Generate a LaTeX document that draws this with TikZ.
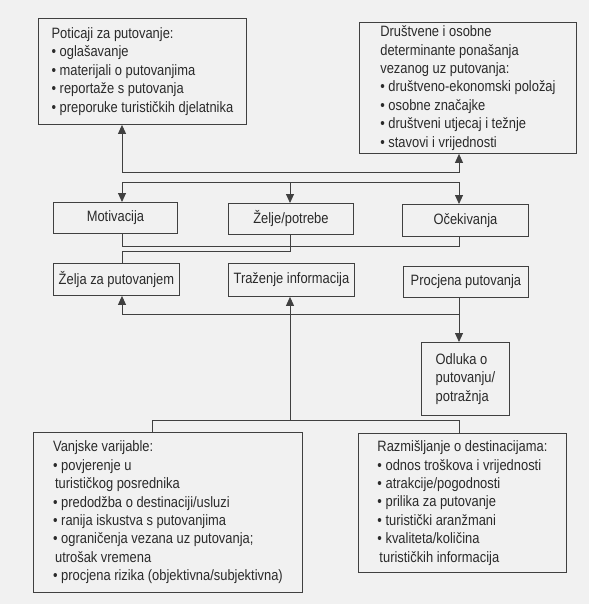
\documentclass[tikz,border=0pt]{standalone}
\usepackage{fontspec}
\setmainfont{Liberation Sans}[FakeStretch=0.86]
\usetikzlibrary{arrows.meta}
\definecolor{paper}{HTML}{F1F1F1}
\definecolor{ink}{HTML}{404040}
\definecolor{txt}{HTML}{2A2A2A}
\tikzset{
  box/.style={draw=ink, line width=0.9pt, fill=paper, text=txt, align=left,
    inner sep=0pt, anchor=north west, font=\fontsize{15}{18.4}\selectfont},
  link/.style={draw=ink, line width=0.9pt},
  tip/.style={link, -{Triangle[length=9pt,width=8pt]}},
  tips/.style={link, {Triangle[length=9pt,width=8pt]}-{Triangle[length=9pt,width=8pt]}},
}
\begin{document}
\begin{tikzpicture}[x=1pt,y=-1pt]
\fill[paper] (0,0) rectangle (589,604);
\coordinate (k0) at (152,0);
\coordinate (k1) at (122,0);
\coordinate (k2) at (290,0);
\coordinate (k3) at (459,0);
\coordinate (r1) at (0,172);
\coordinate (r2) at (0,182);
\coordinate (r3) at (0,246);
\coordinate (r4) at (0,251);
\coordinate (r5) at (0,314);
\coordinate (r6) at (0,420);

\node[box, minimum width=208, minimum height=106] (poticaji) at (38,18)
  {Poticaji za putovanje:\\• oglašavanje\\• materijali o putovanjima\\• reportaže s putovanja\\• preporuke turističkih djelatnika};
\node[box, minimum width=217, minimum height=131] (drustvene) at (359,22)
  {Društvene i osobne\\determinante ponašanja\\vezanog uz putovanja:\\• društveno-ekonomski položaj\\• osobne značajke\\• društveni utjecaj i težnje\\• stavovi i vrijednosti};
\node[box, minimum width=124, minimum height=31] (motivacija) at (53,202) {Motivacija};
\node[box, minimum width=125, minimum height=31] (zelje) at (228,203) {Želje/potrebe};
\node[box, minimum width=126, minimum height=32] (ocekivanja) at (402,204) {Očekivanja};
\node[box, minimum width=126, minimum height=32] (zeljaput) at (53,263) {Želja za putovanjem};
\node[box, minimum width=126, minimum height=33] (trazenje) at (228,263) {Traženje informacija};
\node[box, minimum width=125, minimum height=31] (procjena) at (403,266) {Procjena putovanja};
\node[box, minimum width=88, minimum height=73] (odluka) at (421,342) {Odluka o\\putovanju/\\potražnja};
\node[box, minimum width=269, minimum height=160] (vanjske) at (33,432)
  {Vanjske varijable:\\• povjerenje u\\\hspace*{2pt}turističkog posrednika\\• predodžba o destinaciji/usluzi\\• ranija iskustva s putovanjima\\• ograničenja vezana uz putovanja;\\\hspace*{2pt}utrošak vremena\\• procjena rizika (objektivna/subjektivna)};
\node[box, minimum width=208, minimum height=139] (razmisljanje) at (358,433)
  {Razmišljanje o destinacijama:\\• odnos troškova i vrijednosti\\• atrakcije/pogodnosti\\• prilika za putovanje\\• turistički aranžmani\\• kvaliteta/količina\\\hspace*{2pt}turističkih informacija};

\draw[tips] (poticaji.south -| k1) |- (k3 |- r1) -- (drustvene.south -| k3);
\draw[tips] (motivacija.north -| k1) |- (k3 |- r2) -- (ocekivanja.north -| k3);
\draw[tip] (k2 |- r2) -- (zelje.north -| k2);
\draw[link] (motivacija.south -| k1) |- (k3 |- r3) -- (ocekivanja.south -| k3);
\draw[link] (zelje.south -| k2) |- (k1 |- r4) -- (zeljaput.north -| k1);
\draw[tip] (procjena.south -| k3) -- (odluka.north -| k3);
\draw[tip] (k3 |- r5) -| (zeljaput.south -| k1);
\draw[tip] (k2 |- r6) -- (trazenje.south -| k2);
\draw[link] (vanjske.north -| k0) |- (k3 |- r6) -- (razmisljanje.north -| k3);
\end{tikzpicture}
\end{document}
